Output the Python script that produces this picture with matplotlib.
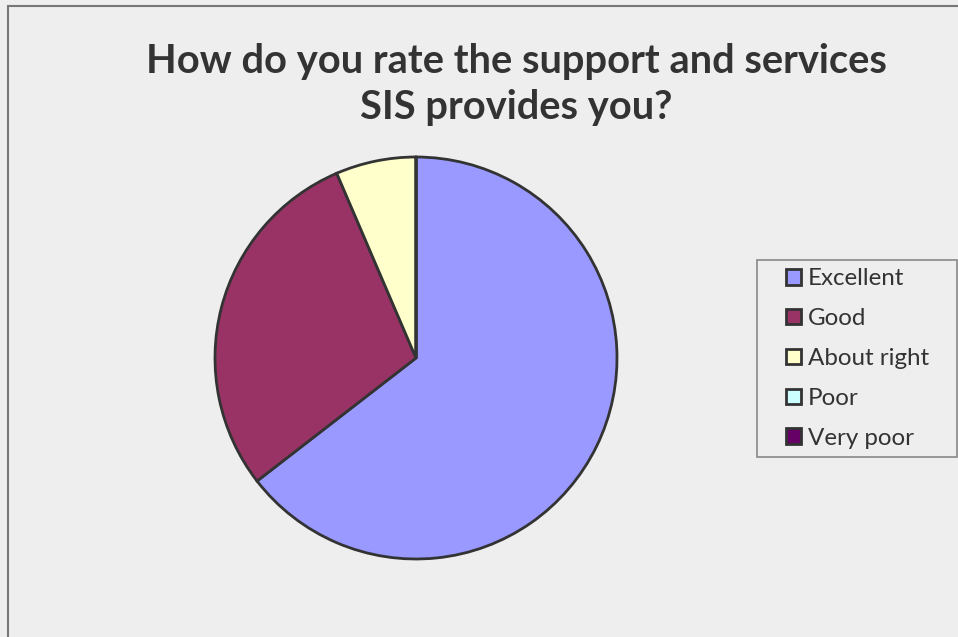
import matplotlib
matplotlib.use("Agg")
import matplotlib.pyplot as plt
from matplotlib.patches import Rectangle

categories = ["Excellent", "Good", "About right", "Poor", "Very poor"]
values = [20, 9, 2, 0, 0]
colors = ["#9999FF", "#993366", "#FFFFCC", "#CCFFFF", "#660066"]
title = "How do you rate the support and services\nSIS provides you?"

plt.rcParams['font.family'] = ['Lato', 'DejaVu Sans']

W, H = 958, 637
fig = plt.figure(figsize=(W / 100, H / 100), dpi=100, facecolor="#EEEEEE")

# outer chart frame
fig.patches.append(Rectangle((8 / W, -0.05), 1.2, 1 - 6 / H + 0.05, transform=fig.transFigure,
                             facecolor="none", edgecolor="#777777", linewidth=1.5))
# legend frame
fig.patches.append(Rectangle((757 / W, 1 - 457 / H), 200 / W, 197 / H, transform=fig.transFigure,
                             facecolor="none", edgecolor="#888888", linewidth=1.2))

cx, cy, r = 416, 358, 201
ax = fig.add_axes([(cx - r) / W, (H - cy - r) / H, 2 * r / W, 2 * r / H])
ax.set_facecolor("none")
wedges, _ = ax.pie(values, colors=colors, startangle=90, counterclock=False,
                   wedgeprops=dict(edgecolor="#333333", linewidth=2))
ax.set_aspect("auto")
ax.set_xlim(-1, 1)
ax.set_ylim(-1, 1)

fig.text(516 / W, 1 - 84 / H, title, ha="center", va="center",
         fontsize=28.7, fontweight="bold", color="#333333", linespacing=1.3)

leg = fig.legend(wedges, categories, loc="center left",
                 bbox_to_anchor=(786 / W, 1 - 358.5 / H), bbox_transform=fig.transFigure,
                 frameon=False, fontsize=17.4, labelspacing=0.78,
                 handlelength=0.62, handleheight=0.62, handletextpad=0.29,
                 borderpad=0, borderaxespad=0)
for t in leg.get_texts():
    t.set_color("#333333")

fig.savefig("out.png", dpi=100, facecolor=fig.get_facecolor())
